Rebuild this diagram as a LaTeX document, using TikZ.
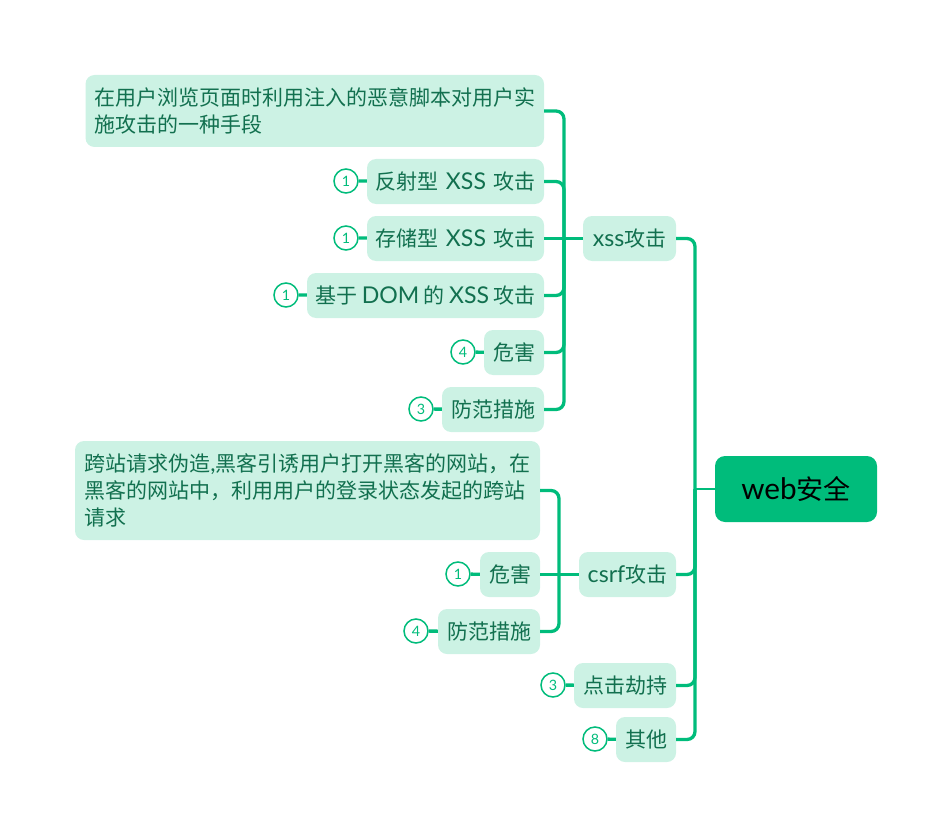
\documentclass[tikz,border=0pt]{standalone}
\usepackage{fontspec}
\setmainfont[Scale=1.1]{Lato}
\newfontfamily\cjk{Noto Sans CJK SC}
\newcommand{\zh}[1]{{\cjk #1}}
\definecolor{linkc}{HTML}{00BC7B}
\definecolor{boxc}{HTML}{CCF2E4}
\definecolor{txtc}{HTML}{12704F}
\tikzset{
  x=1pt,y=-1pt,
  topic/.style={fill=boxc,text=txtc,rounded corners=9,inner sep=0pt,font=\fontsize{21}{27}\selectfont,align=left},
  rootbox/.style={fill=linkc,text=black,rounded corners=10,inner sep=0pt,font=\fontsize{27}{32}\selectfont},
  badge/.style={circle,draw=linkc,line width=1.5pt,fill=white,text=linkc,minimum size=24pt,inner sep=0pt,font=\fontsize{13}{16}\selectfont},
  link/.style={draw=linkc,line width=3.3pt,rounded corners=8},
  stub/.style={draw=linkc,line width=3.3pt}
}
\newcommand{\bx}[7]{% name x1 y1 x2 y2 style text
  \node[#6,minimum width={(#4-#2)*1pt},minimum height={(#5-#3)*1pt}] (#1) at ({(#2+#4)/2},{(#3+#5)/2}) {#7};}
\begin{document}
\begin{tikzpicture}
\useasboundingbox (0,0) rectangle (952,837);
\coordinate (sx) at (564,238);
\coordinate (sc) at (559,574);
\coordinate (sr) at (695,489);
\bx{a1}{85.5}{75}{544}{147}{topic}{\zh{在用户浏览页面时利用注入的恶意脚本对用户实}\\\zh{施攻击的一种手段}}
\bx{a2}{367}{159}{544}{204}{topic}{\zh{反射型}\hspace{1.5pt} XSS\hspace{1.5pt} \zh{攻击}}
\bx{a3}{367}{216}{544}{261}{topic}{\zh{存储型}\hspace{1.5pt} XSS\hspace{1.5pt} \zh{攻击}}
\bx{a4}{307}{273}{544}{318}{topic}{\zh{基于}\hspace{-1.5pt} DOM\hspace{-1.5pt} \zh{的}\hspace{-1.5pt} XSS\hspace{-1.5pt} \zh{攻击}}
\bx{a5}{484}{330}{544}{375}{topic}{\zh{危害}}
\bx{a6}{442}{387}{544}{432}{topic}{\zh{防范措施}}
\bx{xss}{583}{216}{676}{261}{topic}{xss\zh{攻击}}
\bx{b1}{75}{441}{540}{540}{topic}{\zh{跨站请求伪造},\zh{黑客引诱用户打开黑客的网站，在}\\\zh{黑客的网站中，利用用户的登录状态发起的跨站}\\\zh{请求}}
\bx{b2}{480}{552}{540}{597}{topic}{\zh{危害}}
\bx{b3}{438}{609}{540}{654}{topic}{\zh{防范措施}}
\bx{csrf}{579}{552}{676}{597}{topic}{csrf\zh{攻击}}
\bx{c}{574}{663}{676}{708}{topic}{\zh{点击劫持}}
\bx{d}{616}{717}{676}{762}{topic}{\zh{其他}}
\bx{root}{715}{456}{877}{522}{rootbox}{web\zh{安全}}
% connectors
\draw[link] (a1.east) -| (sx);
\draw[link] (a2.east) -| (sx);
\draw[link] (a4.east) -| (sx);
\draw[link] (a5.east) -| (sx);
\draw[link] (a6.east) -| (sx);
\draw[stub] (a3.east) -- (xss.west);
\draw[link] (b1.east) -| (sc);
\draw[link] (b3.east) -| (sc);
\draw[stub] (b2.east) -- (csrf.west);
\draw[link] (xss.east) -| (sr);
\draw[link] (csrf.east) -| (sr);
\draw[link] (c.east) -| (sr);
\draw[link] (d.east) -| (sr);
\draw[stub,line width=2.5pt] (root.west) -- (sr);
% badges
\node[badge] (n2) at (346,181) {1};
\node[badge] (n3) at (346,238) {1};
\node[badge] (n4) at (286,295) {1};
\node[badge] (n5) at (463,352) {4};
\node[badge] (n6) at (421,409) {3};
\node[badge] (n7) at (458,574) {1};
\node[badge] (n8) at (416,631) {4};
\node[badge] (n9) at (553,685) {3};
\node[badge] (n10) at (595,739) {8};
\draw[stub] (n2) -- (a2);
\draw[stub] (n3) -- (a3);
\draw[stub] (n4) -- (a4);
\draw[stub] (n5) -- (a5);
\draw[stub] (n6) -- (a6);
\draw[stub] (n7) -- (b2);
\draw[stub] (n8) -- (b3);
\draw[stub] (n9) -- (c);
\draw[stub] (n10) -- (d);
\end{tikzpicture}
\end{document}
